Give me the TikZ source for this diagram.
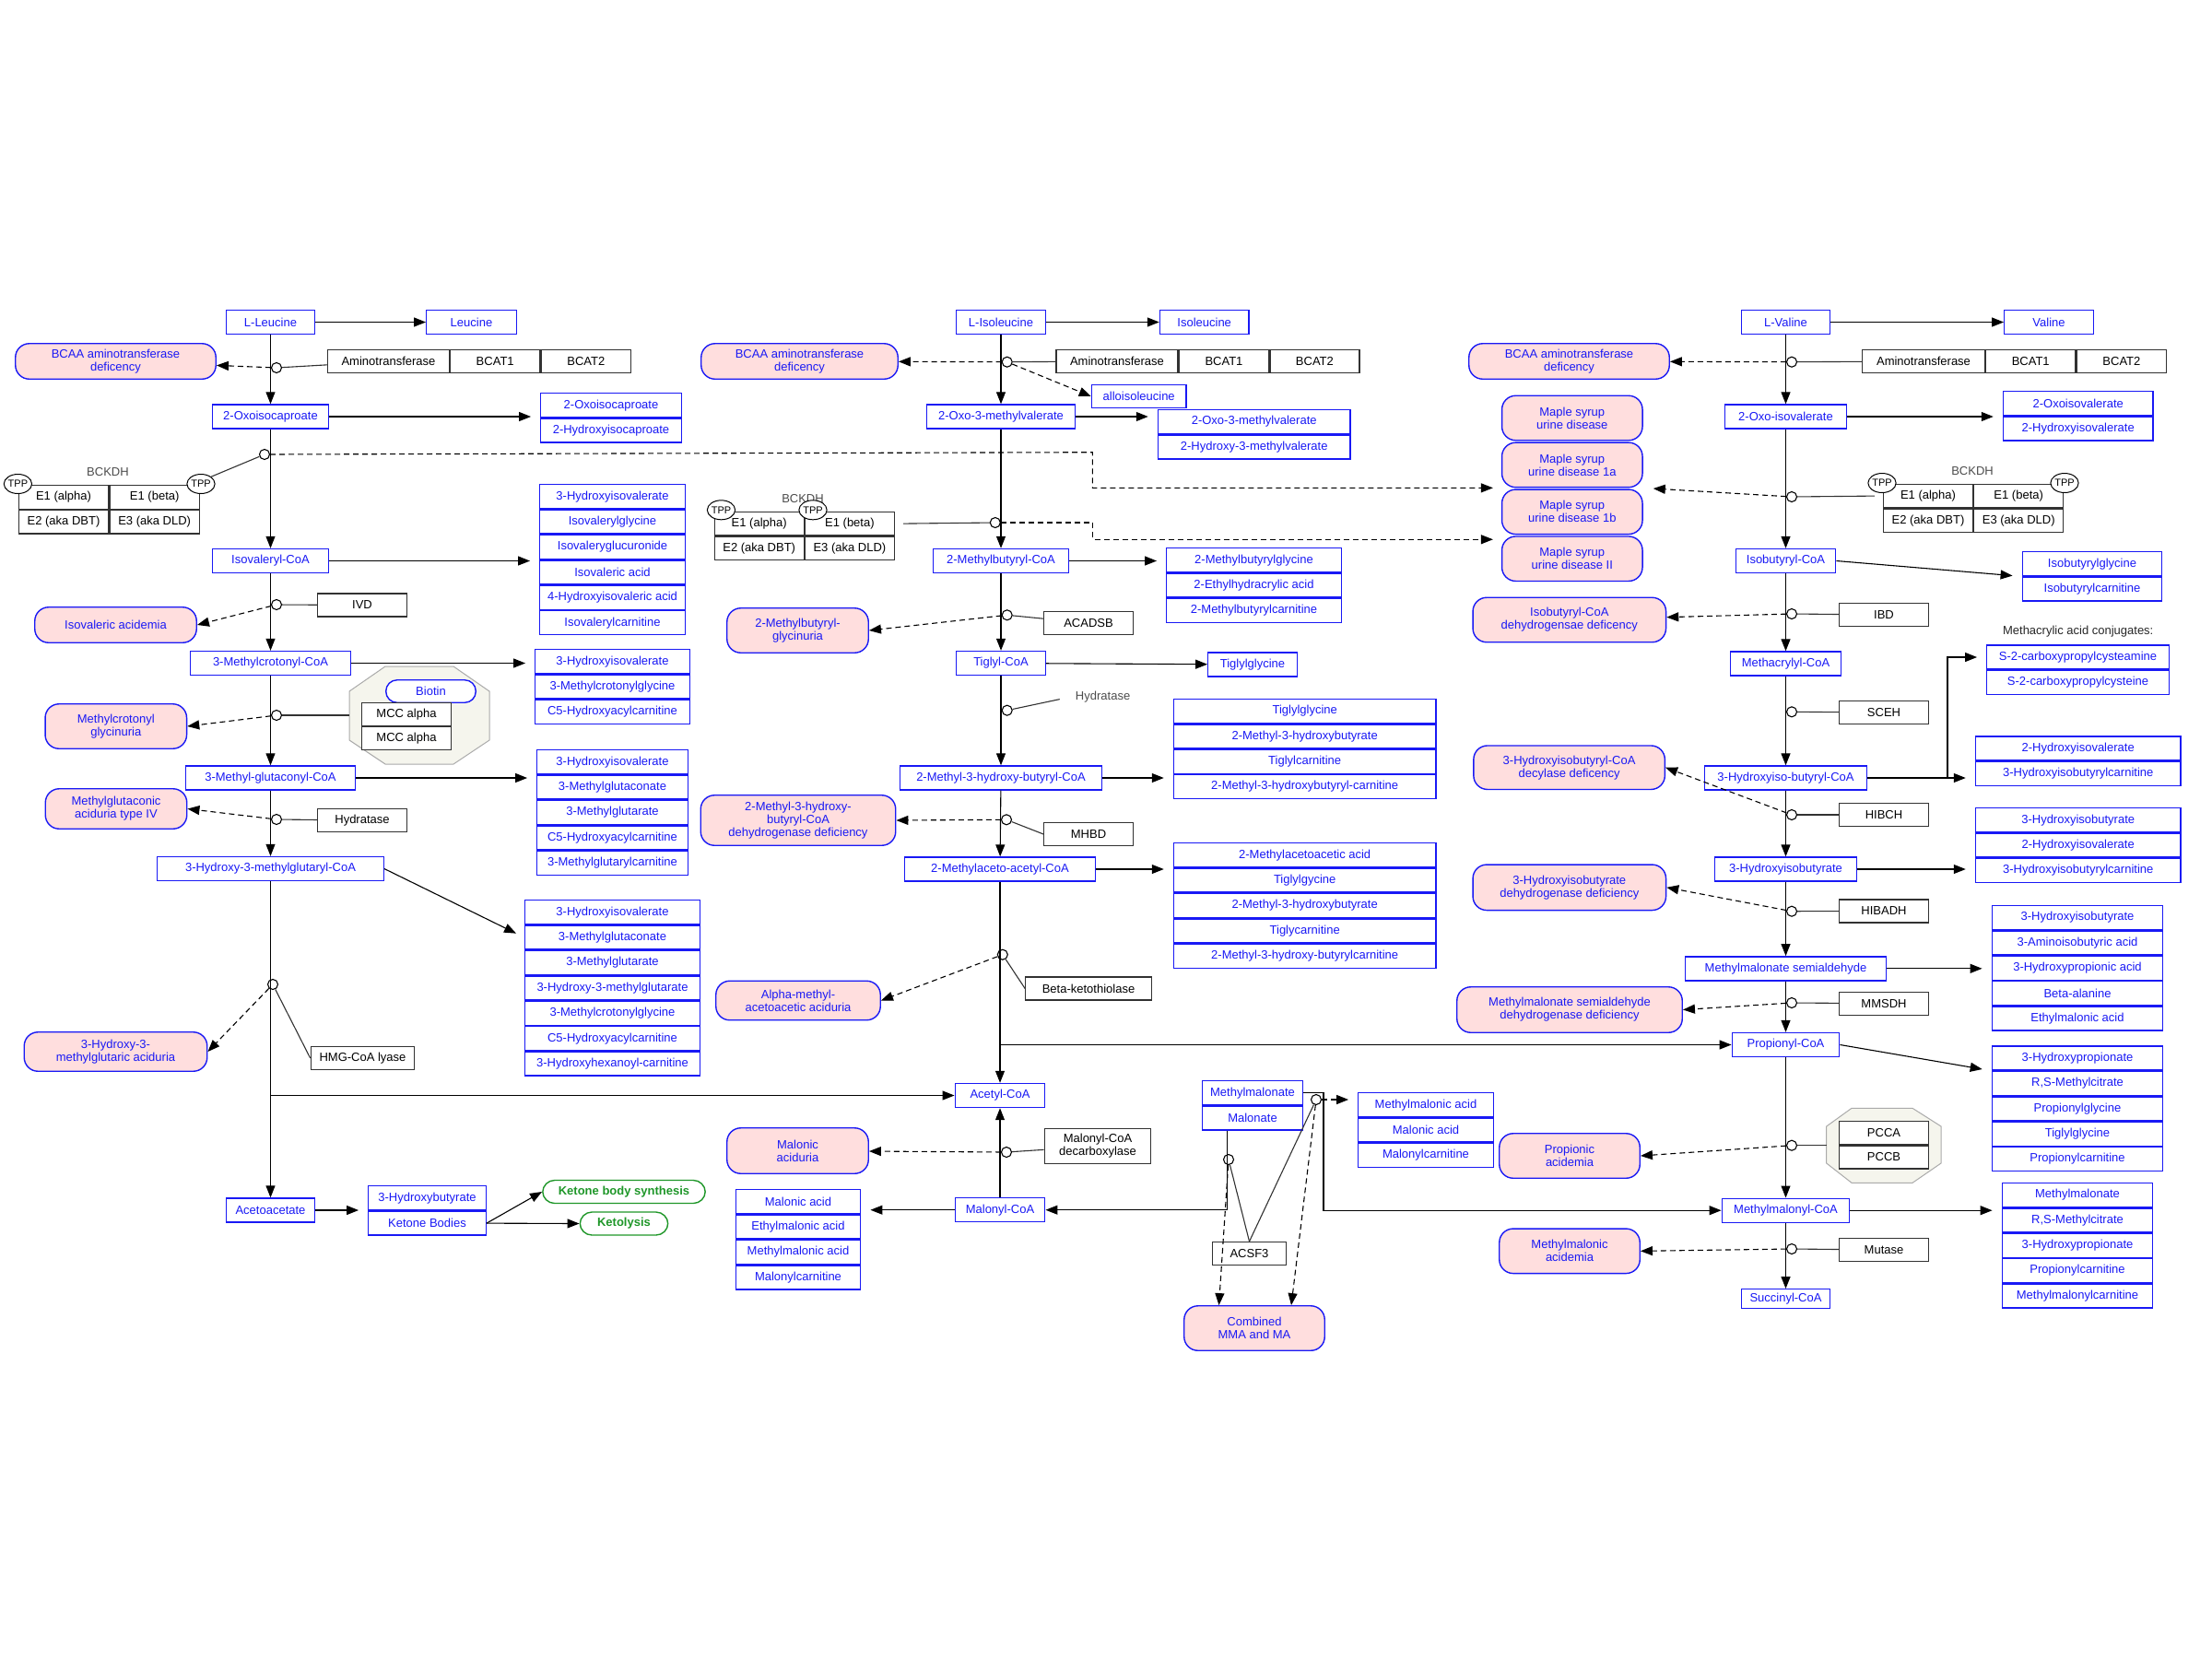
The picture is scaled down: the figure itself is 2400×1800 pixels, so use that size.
\documentclass[tikz,border=0pt]{standalone}
\usepackage{fontspec}
\setmainfont{Liberation Sans}
\usetikzlibrary{positioning, arrows.meta, shapes.geometric}
\definecolor{metblue}{RGB}{25,25,245}
\definecolor{disfill}{RGB}{255,222,222}
\definecolor{enzline}{RGB}{50,50,50}
\definecolor{ketgreen}{RGB}{30,150,40}
\definecolor{cplxfill}{RGB}{245,245,237}
\definecolor{cplxline}{RGB}{170,170,170}

\begin{document}
\begin{tikzpicture}[x=1pt, y=-1pt, node distance=0pt, >={Triangle[length=13pt,width=10pt]},
	font=\fontsize{13}{14}\selectfont,
	met/.style={draw=metblue, line width=1.4pt, fill=white, text=metblue, minimum height=26pt, inner sep=2pt},
	lst/.style={met},
	dis/.style={draw=metblue, line width=1.4pt, fill=disfill, text=metblue, rounded corners=15pt, align=center, inner sep=2pt},
	enz/.style={draw=enzline, line width=1.2pt, fill=white, minimum height=25pt, inner sep=2pt, align=center},
	knot/.style={circle, draw, line width=1.1pt, fill=white, minimum size=11pt, inner sep=0pt},
	tpp/.style={ellipse, draw, line width=1pt, fill=white, minimum width=30pt, minimum height=21pt, inner sep=0pt, font=\fontsize{11}{12}\selectfont},
	cplx/.style={draw=cplxline, line width=1pt, fill=cplxfill},
	ket/.style={draw=ketgreen, line width=1.4pt, text=ketgreen, rounded corners=13pt, minimum height=25pt, font=\fontsize{13}{14}\selectfont\bfseries},
	flow/.style={->, line width=1.1pt},
	tolist/.style={->, line width=1.1pt, shorten >=10pt},
	link/.style={line width=1.1pt, draw=enzline},
	defect/.style={->, dash pattern=on 6pt off 4pt, line width=1.1pt},
	note/.style={text=black!70}]

	\useasboundingbox (0,0) rectangle (2400,1800);

	% leucine
	\node[met, minimum width=96.5pt] (leu) at (293.5,349.5) {L-Leucine};
	\node[met, minimum width=97.5pt] (leuc) at (511.5,349.5) {Leucine};
	\node[dis, minimum width=217.5pt, minimum height=38.5pt] (bcaa1) at (125.5,392) {BCAA aminotransferase\\deficency};
	\node[knot] (k1) at (300,399) {};
	\node[enz, minimum width=131.5pt] (at1) at (421.5,392) {Aminotransferase};
	\node[enz, minimum width=97.5pt, right=of at1] (bcat1a) {BCAT1};
	\node[enz, minimum width=97.5pt, right=of bcat1a] (bcat2a) {BCAT2};
	\node[met, minimum width=125.5pt] (oic) at (293.5,452) {2-Oxoisocaproate};
	\begin{scope}[every node/.append style={lst, minimum width=152.5pt}]
		\node (oic1) at (663,439.7) {2-Oxoisocaproate};
		\node[below=of oic1] (oic2) {2-Hydroxyisocaproate};
	\end{scope}
	\node[knot] (k2) at (287,493) {};
	\node[note] (bckdh1) at (117,511.7) {BCKDH};
	\node[enz, minimum width=97.5pt, minimum height=25.5pt] (e1a1) at (69,539.5) {E1 (alpha)};
	\node[enz, minimum width=97.5pt, minimum height=25.5pt, right=of e1a1] (e1b1) {E1 (beta)};
	\node[enz, minimum width=97.5pt, minimum height=25.5pt, below=of e1a1] (e2a) {E2 (aka DBT)};
	\node[enz, minimum width=97.5pt, minimum height=25.5pt, right=of e2a] (e3a) {E3 (aka DLD)};
	\node[tpp] (tpp1) at (19.4,525) {TPP};
	\node[tpp] (tpp2) at (218,525) {TPP};
	\node[met, minimum width=125.5pt] (ivc) at (293.5,608.5) {Isovaleryl-CoA};
	\begin{scope}[every node/.append style={lst, minimum width=157.5pt}]
		\node (ivc1) at (664.5,538.7) {3-Hydroxyisovalerate};
		\node[below=of ivc1] (ivc2) {Isovalerylglycine};
		\node[below=of ivc2] (ivc3) {Isovaleryglucuronide};
		\node[below=of ivc3] (ivc4) {Isovaleric acid};
		\node[below=of ivc4] (ivc5) {4-Hydroxyisovaleric acid};
		\node[below=of ivc5] (ivc6) {Isovalerylcarnitine};
	\end{scope}
	\node[knot] (k3) at (300,656) {};
	\node[enz, minimum width=96.5pt] (ivd) at (393,656.5) {IVD};
	\node[dis, minimum width=175.5pt, minimum height=38.5pt] (ivadis) at (125.5,678) {Isovaleric acidemia};
	\node[met, minimum width=173.5pt] (mcc) at (293.5,719.5) {3-Methylcrotonyl-CoA};
	\begin{scope}[every node/.append style={lst, minimum width=167.5pt}]
		\node (mcc1) at (664.5,717.7) {3-Hydroxyisovalerate};
		\node[below=of mcc1] (mcc2) {3-Methylcrotonylglycine};
		\node[below=of mcc2] (mcc3) {C5-Hydroxyacylcarnitine};
	\end{scope}
	\draw[cplx] (379,750) -- (418,723) -- (492,723) -- (531,750) -- (531,803) -- (492,829) -- (418,829) -- (379,803) -- cycle;
	\coordinate (cx1) at (379,776);
	\node[met, rounded corners=12pt, minimum width=97.5pt, minimum height=24.5pt] (biotin) at (467.5,750) {Biotin};
	\node[enz, minimum width=96.5pt] (mcca) at (441,775) {MCC alpha};
	\node[enz, minimum width=96.5pt, below=of mcca] (mccb) {MCC alpha};
	\node[knot] (k4) at (300,776) {};
	\node[dis, minimum width=153.5pt, minimum height=48.5pt] (mcgdis) at (125.8,788) {Methylcrotonyl\\glycinuria};
	\node[met, minimum width=184.5pt] (mgc) at (293.5,844) {3-Methyl-glutaconyl-CoA};
	\begin{scope}[every node/.append style={lst, minimum width=163.5pt}]
		\node (mgc1) at (664.5,826.7) {3-Hydroxyisovalerate};
		\node[below=of mgc1] (mgc2) {3-Methylglutaconate};
		\node[below=of mgc2] (mgc3) {3-Methylglutarate};
		\node[below=of mgc3] (mgc4) {C5-Hydroxyacylcarnitine};
		\node[below=of mgc4] (mgc5) {3-Methylglutarylcarnitine};
	\end{scope}
	\node[knot] (k5) at (300,889) {};
	\node[enz, minimum width=96.5pt] (hyd1) at (393,890) {Hydratase};
	\node[dis, minimum width=153.5pt, minimum height=43.5pt] (mgadis) at (126,877.5) {Methylglutaconic\\aciduria type IV};
	\node[met, minimum width=245.5pt] (hmg) at (293.5,942.5) {3-Hydroxy-3-methylglutaryl-CoA};
	\begin{scope}[every node/.append style={lst, minimum width=189.5pt}]
		\node (hmg1) at (664.5,989.7) {3-Hydroxyisovalerate};
		\node[below=of hmg1] (hmg2) {3-Methylglutaconate};
		\node[below=of hmg2] (hmg3) {3-Methylglutarate};
		\node[below=of hmg3] (hmg4) {3-Hydroxy-3-methylglutarate};
		\node[below=of hmg4] (hmg5) {3-Methylcrotonylglycine};
		\node[below=of hmg5] (hmg6) {C5-Hydroxyacylcarnitine};
		\node[below=of hmg6] (hmg7) {3-Hydroxyhexanoyl-carnitine};
	\end{scope}
	\node[knot] (k6) at (296,1068) {};
	\node[dis, minimum width=198.5pt, minimum height=42.5pt] (hmgdis) at (125.5,1141) {3-Hydroxy-3-\\methylglutaric aciduria};
	\node[enz, minimum width=112.5pt] (hmgly) at (393.5,1148) {HMG-CoA lyase};
	\node[met, minimum width=96.5pt] (aca) at (293.5,1313) {Acetoacetate};
	\begin{scope}[every node/.append style={lst, minimum width=127.5pt}]
		\node (ketl1) at (463.5,1299.7) {3-Hydroxybutyrate};
		\node[below=of ketl1] (ketl2) {Ketone Bodies};
	\end{scope}
	\node[ket, minimum width=176.5pt] (kbs) at (677,1293) {Ketone body synthesis};
	\node[ket, minimum width=95.5pt] (ktl) at (677,1327.5) {Ketolysis};

	% isoleucine
	\node[met, minimum width=96.5pt] (ile) at (1086,349.5) {L-Isoleucine};
	\node[met, minimum width=96.5pt] (ilec) at (1306.7,349.5) {Isoleucine};
	\node[dis, minimum width=213.5pt, minimum height=38.5pt] (bcaa2) at (867.5,392) {BCAA aminotransferase\\deficency};
	\node[knot] (k7) at (1092.7,392.7) {};
	\node[enz, minimum width=132pt] (at2) at (1212,392) {Aminotransferase};
	\node[enz, minimum width=97.5pt, right=of at2] (bcat1b) {BCAT1};
	\node[enz, minimum width=97pt, right=of bcat1b] (bcat2b) {BCAT2};
	\node[met, minimum width=102.5pt, minimum height=24.5pt] (allo) at (1235.7,430) {alloisoleucine};
	\node[met, minimum width=161.5pt] (omv) at (1086,452) {2-Oxo-3-methylvalerate};
	\begin{scope}[every node/.append style={lst, minimum width=208.5pt}]
		\node (omv1) at (1360.7,457.4) {2-Oxo-3-methylvalerate};
		\node[below=of omv1] (omv2) {2-Hydroxy-3-methylvalerate};
	\end{scope}
	\node[note] (bckdh2) at (871,540.7) {BCKDH};
	\node[enz, minimum width=97pt, minimum height=25.5pt] (e1a2) at (823.7,568.2) {E1 (alpha)};
	\node[enz, minimum width=97pt, minimum height=25.5pt, right=of e1a2] (e1b2) {E1 (beta)};
	\node[enz, minimum width=97pt, minimum height=25.5pt, below=of e1a2] (e2b) {E2 (aka DBT)};
	\node[enz, minimum width=97pt, minimum height=25.5pt, right=of e2b] (e3b) {E3 (aka DLD)};
	\node[tpp] (tpp3) at (782.5,553.3) {TPP};
	\node[tpp] (tpp4) at (882,553.3) {TPP};
	\node[knot] (k8) at (1079.8,567) {};
	\node[met, minimum width=147.5pt] (mbc) at (1086,608.5) {2-Methylbutyryl-CoA};
	\begin{scope}[every node/.append style={lst, minimum width=189.5pt}]
		\node (mbc1) at (1360.5,607.7) {2-Methylbutyrylglycine};
		\node[below=of mbc1] (mbc2) {2-Ethylhydracrylic acid};
		\node[below=of mbc2] (mbc3) {2-Methylbutyrylcarnitine};
	\end{scope}
	\node[knot] (k9) at (1092.7,667.3) {};
	\node[enz, minimum width=96.5pt] (acadsb) at (1181,676) {ACADSB};
	\node[dis, minimum width=153.5pt, minimum height=48.5pt] (mbgdis) at (865.5,684) {2-Methylbutyryl-\\glycinuria};
	\node[met, minimum width=96.5pt] (tig) at (1086,719.5) {Tiglyl-CoA};
	\node[met, minimum width=96.5pt] (tigg) at (1359,721) {Tiglylglycine};
	\node[knot] (k10) at (1092.7,770.7) {};
	\node[note] (hyd2) at (1196.6,755.7) {Hydratase};
	\node[met, minimum width=219.5pt] (mhb) at (1086,844) {2-Methyl-3-hydroxy-butyryl-CoA};
	\begin{scope}[every node/.append style={lst, minimum width=284.5pt}]
		\node (mhb1) at (1415.7,771.4) {Tiglylglycine};
		\node[below=of mhb1] (mhb2) {2-Methyl-3-hydroxybutyrate};
		\node[below=of mhb2] (mhb3) {Tiglylcarnitine};
		\node[below=of mhb3] (mhb4) {2-Methyl-3-hydroxybutyryl-carnitine};
	\end{scope}
	\node[knot] (k11) at (1092,889.3) {};
	\node[enz, minimum width=96.5pt] (mhbd) at (1181,905) {MHBD};
	\node[dis, minimum width=211.5pt, minimum height=54.5pt] (mhbdis) at (866,890) {2-Methyl-3-hydroxy-\\butyryl-CoA\\dehydrogenase deficiency};
	\node[met, minimum width=206.5pt] (maa) at (1085,943) {2-Methylaceto-acetyl-CoA};
	\begin{scope}[every node/.append style={lst, minimum width=284.5pt}]
		\node (maa1) at (1415.7,927.7) {2-Methylacetoacetic acid};
		\node[below=of maa1] (maa2) {Tiglylgycine};
		\node[below=of maa2] (maa3) {2-Methyl-3-hydroxybutyrate};
		\node[below=of maa3] (maa4) {Tiglycarnitine};
		\node[below=of maa4] (maa5) {2-Methyl-3-hydroxy-butyrylcarnitine};
	\end{scope}
	\node[knot] (k12) at (1087.8,1035.7) {};
	\node[enz, minimum width=136.5pt] (bkt) at (1181,1072.5) {Beta-ketothiolase};
	\node[dis, minimum width=178.5pt, minimum height=42.5pt] (amadis) at (866,1085.5) {Alpha-methyl-\\acetoacetic aciduria};
	\node[met, minimum width=97.5pt] (acc) at (1085,1188.5) {Acetyl-CoA};
	\node[met, minimum width=108.5pt] (mma) at (1359,1185.7) {Methylmalonate};
	\node[met, minimum width=108.5pt, below=of mma] (mal) {Malonate};
	\node[met, minimum width=97.5pt] (mcoa) at (1085,1312.7) {Malonyl-CoA};
	\node[knot] (k13) at (1092,1250) {};
	\node[enz, minimum width=115.5pt, minimum height=37.5pt] (mcd) at (1191,1243.5) {Malonyl-CoA\\decarboxylase};
	\node[dis, minimum width=153.5pt, minimum height=49.5pt] (madis) at (865.5,1248.5) {Malonic\\aciduria};
	\begin{scope}[every node/.append style={lst, minimum width=135.5pt}]
		\node (mall1) at (866,1303.7) {Malonic acid};
		\node[below=of mall1] (mall2) {Ethylmalonic acid};
		\node[below=of mall2] (mall3) {Methylmalonic acid};
		\node[below=of mall3] (mall4) {Malonylcarnitine};
	\end{scope}
	\node[knot] (k14) at (1333,1258) {};
	\node[enz, minimum width=80.5pt] (acsf3) at (1355.5,1360) {ACSF3};
	\node[knot] (k15) at (1428,1193) {};
	\begin{scope}[every node/.append style={lst, minimum width=146.5pt}]
		\node (mmal1) at (1547,1198.7) {Methylmalonic acid};
		\node[below=of mmal1] (mmal2) {Malonic acid};
		\node[below=of mmal2] (mmal3) {Malonylcarnitine};
	\end{scope}
	\node[dis, minimum width=152.5pt, minimum height=48.5pt] (cmma) at (1361,1441) {Combined\\MMA and MA};

	% valine
	\node[met, minimum width=96.5pt] (val) at (1937.5,349.5) {L-Valine};
	\node[met, minimum width=96.5pt] (valc) at (2223,349.5) {Valine};
	\node[dis, minimum width=217.5pt, minimum height=38.5pt] (bcaa3) at (1702.5,392) {BCAA aminotransferase\\deficency};
	\node[knot] (k16) at (1944,392.7) {};
	\node[enz, minimum width=132.5pt] (at3) at (2087,392) {Aminotransferase};
	\node[enz, minimum width=97.5pt, right=of at3] (bcat1c) {BCAT1};
	\node[enz, minimum width=97.5pt, right=of bcat1c] (bcat2c) {BCAT2};
	\node[met, minimum width=132.5pt] (oiv) at (1937.5,452) {2-Oxo-isovalerate};
	\begin{scope}[every node/.append style={lst, minimum width=162.5pt}]
		\node (oiv1) at (2254.7,437.4) {2-Oxoisovalerate};
		\node[below=of oiv1] (oiv2) {2-Hydroxyisovalerate};
	\end{scope}
	\begin{scope}[every node/.append style={dis, minimum width=152.5pt, minimum height=48.5pt}]
		\node (msuda) at (1705.8,453.5) {Maple syrup\\urine disease};
		\node[below=1pt of msuda] (msudb) {Maple syrup\\urine disease 1a};
		\node[below=1pt of msudb] (msudc) {Maple syrup\\urine disease 1b};
		\node[below=1pt of msudc] (msudd) {Maple syrup\\urine disease II};
	\end{scope}
	\node[knot] (k17) at (1944,539) {};
	\node[note] (bckdh3) at (2140,510.7) {BCKDH};
	\node[enz, minimum width=97pt, minimum height=25.5pt] (e1a3) at (2092,538) {E1 (alpha)};
	\node[enz, minimum width=97pt, minimum height=25.5pt, right=of e1a3] (e1b3) {E1 (beta)};
	\node[enz, minimum width=97pt, minimum height=25.5pt, below=of e1a3] (e2c) {E2 (aka DBT)};
	\node[enz, minimum width=97pt, minimum height=25.5pt, right=of e2c] (e3c) {E3 (aka DLD)};
	\node[tpp] (tpp5) at (2042,524) {TPP};
	\node[tpp] (tpp6) at (2240,524) {TPP};
	\node[met, minimum width=108.5pt] (ibc) at (1937.5,608.5) {Isobutyryl-CoA};
	\begin{scope}[every node/.append style={lst, minimum width=151.5pt}]
		\node (ibc1) at (2270,611.7) {Isobutyrylglycine};
		\node[below=of ibc1] (ibc2) {Isobutyrylcarnitine};
	\end{scope}
	\node[knot] (k18) at (1944,666) {};
	\node[enz, minimum width=96.5pt] (ibd) at (2044,667) {IBD};
	\node[dis, minimum width=209.5pt, minimum height=48.5pt] (ibddis) at (1702.8,672.5) {Isobutyryl-CoA\\dehydrogensae deficency};
	\node[met, minimum width=119.5pt] (mac) at (1937.5,720) {Methacrylyl-CoA};
	\node[text=black!85] (macn) at (2254.7,685) {Methacrylic acid conjugates:};
	\begin{scope}[every node/.append style={lst, minimum width=197.5pt}]
		\node (s2l1) at (2254.5,713) {S-2-carboxypropylcysteamine};
		\node[below=of s2l1] (s2l2) {S-2-carboxypropylcysteine};
	\end{scope}
	\node[knot] (k19) at (1944,772.3) {};
	\node[enz, minimum width=96.5pt] (sceh) at (2044,773) {SCEH};
	\node[met, minimum width=175.5pt] (hibc) at (1937.5,844) {3-Hydroxyiso-butyryl-CoA};
	\begin{scope}[every node/.append style={lst, minimum width=222.5pt}]
		\node (hibc1) at (2254.7,812) {2-Hydroxyisovalerate};
		\node[below=of hibc1] (hibc2) {3-Hydroxyisobutyrylcarnitine};
	\end{scope}
	\node[dis, minimum width=207.5pt, minimum height=47.5pt] (hibcdis) at (1702.6,832.7) {3-Hydroxyisobutyryl-CoA\\decylase deficency};
	\node[knot] (k20) at (1944,884) {};
	\node[enz, minimum width=96.5pt] (hibch) at (2044,884) {HIBCH};
	\node[met, minimum width=153.5pt] (hib) at (1937.5,943) {3-Hydroxyisobutyrate};
	\begin{scope}[every node/.append style={lst, minimum width=222.5pt}]
		\node (hib1) at (2254.7,889.7) {3-Hydroxyisobutyrate};
		\node[below=of hib1] (hib2) {2-Hydroxyisovalerate};
		\node[below=of hib2] (hib3) {3-Hydroxyisobutyrylcarnitine};
	\end{scope}
	\node[knot] (k21) at (1944,988.7) {};
	\node[enz, minimum width=96.5pt] (hibadh) at (2044,988.5) {HIBADH};
	\node[dis, minimum width=209.5pt, minimum height=49.5pt] (hibdis) at (1702.8,962.8) {3-Hydroxyisobutyrate\\dehydrogenase deficiency};
	\node[met, minimum width=218.5pt] (msa) at (1937.5,1050.8) {Methylmalonate semialdehyde};
	\begin{scope}[every node/.append style={lst, minimum width=185.5pt}]
		\node (msa1) at (2254,995.4) {3-Hydroxyisobutyrate};
		\node[below=of msa1] (msa2) {3-Aminoisobutyric acid};
		\node[below=of msa2] (msa3) {3-Hydroxypropionic acid};
		\node[below=of msa3] (msa4) {Beta-alanine};
		\node[below=of msa4] (msa5) {Ethylmalonic acid};
	\end{scope}
	\node[knot] (k22) at (1944,1088) {};
	\node[enz, minimum width=96.5pt] (mmsdh) at (2044,1088.7) {MMSDH};
	\node[dis, minimum width=244.5pt, minimum height=49.5pt] (msadis) at (1703,1095.5) {Methylmalonate semialdehyde\\dehydrogenase deficiency};
	\node[met, minimum width=116.5pt] (pcoa) at (1937.5,1133.5) {Propionyl-CoA};
	\begin{scope}[every node/.append style={lst, minimum width=185.5pt}]
		\node (pcoa1) at (2254,1148) {3-Hydroxypropionate};
		\node[below=of pcoa1] (pcoa2) {R,S-Methylcitrate};
		\node[below=of pcoa2] (pcoa3) {Propionylglycine};
		\node[below=of pcoa3] (pcoa4) {Tiglylglycine};
		\node[below=of pcoa4] (pcoa5) {Propionylcarnitine};
	\end{scope}
	\draw[cplx] (1981.7,1222) -- (2009,1202.3) -- (2075,1202.3) -- (2106,1222) -- (2106,1262) -- (2075,1283.3) -- (2009,1283.3) -- (1981.7,1262) -- cycle;
	\coordinate (cx2) at (1981.7,1242.7);
	\node[enz, minimum width=96.5pt] (pcca) at (2044,1229.3) {PCCA};
	\node[enz, minimum width=96.5pt, below=of pcca] (pccb) {PCCB};
	\node[knot] (k23) at (1944,1242.7) {};
	\node[dis, minimum width=152.5pt, minimum height=48.5pt] (padis) at (1703,1254) {Propionic\\acidemia};
	\node[met, minimum width=138.5pt] (mmc) at (1937.5,1313.2) {Methylmalonyl-CoA};
	\begin{scope}[every node/.append style={lst, minimum width=163.5pt}]
		\node (mmc1) at (2254,1296.4) {Methylmalonate};
		\node[below=of mmc1] (mmc2) {R,S-Methylcitrate};
		\node[below=of mmc2] (mmc3) {3-Hydroxypropionate};
		\node[below=of mmc3] (mmc4) {Propionylcarnitine};
		\node[below=of mmc4] (mmc5) {Methylmalonylcarnitine};
	\end{scope}
	\node[knot] (k24) at (1944,1355) {};
	\node[enz, minimum width=96.5pt] (mutase) at (2044,1356) {Mutase};
	\node[dis, minimum width=152.5pt, minimum height=48.5pt] (mmadis) at (1703,1357.3) {Methylmalonic\\acidemia};
	\node[met, minimum width=96.5pt, minimum height=20.5pt] (suc) at (1937.5,1409) {Succinyl-CoA};

	\coordinate (j1) at (1185.4,490.7);
	\coordinate (j2) at (1185.4,567);

	% connectors, leucine
	\draw[flow] (leu) -- (leuc);
	\draw[flow] (leu) -- (oic);
	\draw[link] (k1) -- (at1);
	\draw[defect] (k1) -- (bcaa1);
	\draw[tolist] (oic) -- (oic -| oic1.west);
	\draw[flow] (oic) -- (ivc);
	\draw[link] (k2) -- (tpp2.north east);
	\draw[defect] (k2) -- (j1) |- ([xshift=-9pt]msudb.south west);
	\draw[tolist] (ivc) -- (ivc -| ivc1.west);
	\draw[flow] (ivc) -- (mcc);
	\draw[link] (k3) -- (ivd);
	\draw[defect] (k3) -- (ivadis.east);
	\draw[tolist] (mcc) -- (mcc -| mcc1.west);
	\draw[flow] (mcc) -- (mgc);
	\draw[link] (k4) -- (cx1);
	\draw[defect] (k4) -- (mcgdis.east);
	\draw[tolist] (mgc) -- (mgc -| mgc1.west);
	\draw[flow] (mgc) -- (hmg);
	\draw[link] (k5) -- (hyd1);
	\draw[defect] (k5) -- (mgadis.east);
	\draw[tolist] (hmg.east) -- (hmg2.west);
	\draw[flow] (hmg) -- (aca);
	\draw[link] (k6) -- (hmgly.west);
	\draw[defect] (k6) -- (hmgdis.east);
	\draw[flow] (hmg |- acc) -- (acc);
	\draw[tolist] (aca) -- (aca -| ketl1.west);
	\draw[flow] (ketl2.east) -- (kbs.west);
	\draw[flow] (ketl2.east) -- (ktl.west);

	% connectors, isoleucine
	\draw[flow] (ile) -- (ilec);
	\draw[flow] (ile) -- (omv);
	\draw[link] (k7) -- (at2);
	\draw[defect] (k7) -- (bcaa2);
	\draw[defect] (k7) -- (allo.west);
	\draw[tolist] (omv) -- (omv -| omv1.west);
	\draw[flow] (omv) -- (mbc);
	\draw[link, shorten >=9pt] (k8) -- (e1b2.east);
	\draw[defect] (k8) -- (j2) |- ([xshift=-9pt,yshift=-4pt]msudd.north west);
	\draw[tolist] (mbc) -- (mbc -| mbc1.west);
	\draw[flow] (mbc) -- (tig);
	\draw[link] (k9) -- (acadsb);
	\draw[defect] (k9) -- (mbgdis.east);
	\draw[flow] (tig) -- (tigg);
	\draw[flow] (tig) -- (mhb);
	\draw[link, shorten >=14pt] (k10) -- (hyd2.west);
	\draw[tolist] (mhb) -- (mhb -| mhb1.west);
	\draw[flow] (mhb) -- (maa);
	\draw[link] (k11) -- (mhbd.west);
	\draw[defect] (k11) -- (mhbdis.east);
	\draw[tolist] (maa) -- (maa -| maa1.west);
	\draw[flow] (maa) -- (acc);
	\draw[link] (k12) -- (bkt.west);
	\draw[defect] (k12) -- (amadis.east);
	\draw[flow] (maa |- pcoa) -- (pcoa);
	\draw[flow] (mcoa) -- (acc);
	\draw[link] (k13) -- (mcd);
	\draw[defect] (k13) -- (madis);
	\draw[tolist] (mcoa) -- (mcoa -| mall1.east);
	\draw[flow] ([xshift=-27.4pt]mal.south) |- (mcoa);
	\draw[flow] (mma.east) -- ++(22,0) |- (mmc);
	\draw[link] (acsf3.north) -- (k14);
	\draw[link] (acsf3.north) -- (k15);
	\draw[defect] (k14) -- ([xshift=-38.5pt]cmma.north);
	\draw[defect] (k15) -- ([xshift=40pt]cmma.north);
	\draw[defect, shorten >=10pt] (k15) -- (k15 -| mmal1.west);

	% connectors, valine
	\draw[flow] (val) -- (valc);
	\draw[flow] (val) -- (oiv);
	\draw[link] (k16) -- (at3);
	\draw[defect] (k16) -- (bcaa3);
	\draw[tolist] (oiv) -- (oiv -| oiv1.west);
	\draw[flow] (oiv) -- (ibc);
	\draw[link, shorten >=9pt] (k17) -- (e1a3.west);
	\draw[defect, shorten >=11pt] (k17) -- (msudb.south east);
	\draw[tolist] (ibc.east) -- (ibc2.north west);
	\draw[flow] (ibc) -- (mac);
	\draw[link] (k18) -- (ibd);
	\draw[defect] (k18) -- (ibddis);
	\draw[flow] (mac) -- (hibc);
	\draw[link] (k19) -- (sceh);
	\draw[tolist] (hibc) -- (hibc -| hibc1.west);
	\draw[tolist] ([xshift=87pt]hibc.east) |- (s2l1.west);
	\draw[flow] (hibc) -- (hib);
	\draw[link] (k20) -- (hibch);
	\draw[defect] (k20) -- (hibcdis.east);
	\draw[tolist] (hib) -- (hib -| hib1.west);
	\draw[flow] (hib) -- (msa);
	\draw[link] (k21) -- (hibadh);
	\draw[defect] (k21) -- (hibdis.east);
	\draw[tolist] (msa) -- (msa -| msa1.west);
	\draw[flow] (msa) -- (pcoa);
	\draw[link] (k22) -- (mmsdh);
	\draw[defect] (k22) -- (msadis.east);
	\draw[tolist] (pcoa.east) -- (pcoa2.north west);
	\draw[flow] (pcoa) -- (mmc);
	\draw[link] (k23) -- (cx2);
	\draw[defect] (k23) -- (padis.east);
	\draw[tolist] (mmc) -- (mmc -| mmc1.west);
	\draw[flow] (mmc) -- (suc);
	\draw[link] (k24) -- (mutase);
	\draw[defect] (k24) -- (mmadis.east);
\end{tikzpicture}
\end{document}
